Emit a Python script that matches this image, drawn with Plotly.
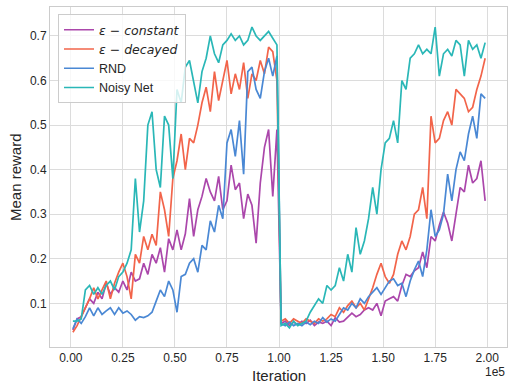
import plotly.graph_objects as go

# iterations (every 2000 steps)
iterations = list(range(1000, 200000, 2000))

eps_constant = [0.04,0.065,0.07,0.09,0.11,0.1,0.125,0.11,0.145,0.12,
                0.135,0.125,0.15,0.13,0.17,0.15,0.155,0.19,0.165,0.21,
                0.19,0.225,0.17,0.245,0.22,0.265,0.22,0.256,0.335,0.25,
                0.31,0.34,0.38,0.35,0.33,0.385,0.31,0.33,0.41,0.355,
                0.37,0.29,0.345,0.32,0.235,0.37,0.45,0.49,0.34,0.49,
                0.055,0.06,0.05,0.058,0.052,0.06,0.055,0.062,0.05,0.058,
                0.055,0.06,0.05,0.068,0.058,0.06,0.068,0.078,0.07,0.075,
                0.085,0.09,0.085,0.1,0.072,0.105,0.11,0.115,0.105,0.14,
                0.165,0.16,0.173,0.18,0.215,0.18,0.25,0.24,0.275,0.305,
                0.28,0.24,0.30,0.36,0.35,0.41,0.37,0.38,0.42,0.33]

eps_decayed = [0.035,0.05,0.07,0.09,0.11,0.135,0.11,0.13,0.15,0.11,
               0.145,0.17,0.19,0.16,0.11,0.21,0.19,0.25,0.22,0.255,
               0.23,0.35,0.31,0.25,0.38,0.42,0.48,0.40,0.47,0.46,
               0.50,0.55,0.585,0.53,0.62,0.555,0.60,0.645,0.57,0.615,
               0.58,0.64,0.56,0.615,0.60,0.645,0.615,0.675,0.665,0.60,
               0.06,0.065,0.055,0.065,0.06,0.055,0.065,0.06,0.055,0.065,
               0.06,0.065,0.075,0.07,0.09,0.08,0.095,0.105,0.09,0.10,
               0.085,0.11,0.135,0.165,0.19,0.16,0.145,0.165,0.21,0.24,
               0.22,0.25,0.30,0.31,0.36,0.29,0.52,0.46,0.47,0.51,
               0.53,0.50,0.58,0.57,0.56,0.53,0.54,0.58,0.61,0.65]

rnd = [0.043,0.065,0.055,0.07,0.09,0.072,0.09,0.075,0.083,0.09,
       0.075,0.09,0.078,0.083,0.075,0.062,0.07,0.068,0.072,0.08,
       0.105,0.13,0.115,0.15,0.13,0.08,0.16,0.165,0.19,0.2,
       0.17,0.23,0.22,0.285,0.26,0.32,0.29,0.46,0.49,0.43,
       0.51,0.39,0.62,0.63,0.58,0.56,0.62,0.65,0.61,0.655,
       0.055,0.05,0.058,0.05,0.055,0.05,0.058,0.052,0.06,0.055,
       0.068,0.058,0.065,0.06,0.075,0.09,0.085,0.1,0.09,0.11,
       0.1,0.115,0.125,0.135,0.12,0.135,0.15,0.155,0.14,0.145,
       0.115,0.15,0.175,0.195,0.16,0.22,0.31,0.25,0.265,0.30,
       0.39,0.33,0.40,0.44,0.42,0.48,0.52,0.47,0.57,0.56]

noisy_net = [0.06,0.06,0.065,0.13,0.14,0.12,0.135,0.12,0.14,0.15,
             0.13,0.16,0.17,0.19,0.22,0.38,0.26,0.33,0.5,0.53,
             0.4,0.36,0.52,0.5,0.38,0.58,0.55,0.63,0.645,0.6,
             0.55,0.62,0.65,0.7,0.66,0.64,0.68,0.69,0.705,0.69,
             0.7,0.68,0.69,0.72,0.7,0.69,0.7,0.71,0.695,0.68,
             0.05,0.055,0.045,0.06,0.05,0.055,0.06,0.08,0.095,0.11,
             0.10,0.14,0.13,0.14,0.18,0.15,0.21,0.17,0.27,0.21,
             0.24,0.29,0.36,0.30,0.40,0.46,0.47,0.51,0.46,0.60,
             0.58,0.65,0.66,0.68,0.66,0.67,0.66,0.72,0.61,0.66,
             0.67,0.655,0.69,0.68,0.61,0.69,0.67,0.68,0.65,0.685]

x_tickvals = [0, 25000, 50000, 75000, 100000, 125000, 150000, 175000, 200000]
x_ticktext = ["0.00", "0.25", "0.50", "0.75", "1.00", "1.25", "1.50", "1.75", "2.00"]
y_tickvals = [0.1, 0.2, 0.3, 0.4, 0.5, 0.6, 0.7]
y_ticktext = ["0.1", "0.2", "0.3", "0.4", "0.5", "0.6", "0.7"]

MATH = '<span style="font-family:DejaVu Sans"><i>{}</i></span>'
series = [
    (MATH.format("ε − constant"), eps_constant, "#ab47ab"),
    (MATH.format("ε − decayed"), eps_decayed, "#f2644a"),
    ("RND", rnd, "#4a88d4"),
    ("Noisy Net", noisy_net, "#2ab7b7"),
]

fig = go.Figure()
for name, vals, color in series:
    fig.add_trace(go.Scatter(x=iterations, y=vals, mode="lines", name=name,
                             line=dict(color=color, width=1.7)))

FONT = "Liberation Sans, Arial, sans-serif"
TXT = "#262626"
GRID = "#dcdcdc"

fig.update_layout(
    width=508, height=383,
    margin=dict(l=50, r=1, t=7, b=36, autoexpand=False),
    paper_bgcolor="white", plot_bgcolor="white",
    font=dict(family=FONT, size=12, color=TXT),
    showlegend=True,
    legend=dict(x=0.0175, y=0.979, xanchor="left", yanchor="top",
                bgcolor="rgba(255,255,255,0.8)", bordercolor="#cccccc", borderwidth=1,
                font=dict(family=FONT, size=12.5, color=TXT)),
    xaxis=dict(range=[-10000, 209500], tickvals=x_tickvals, ticktext=x_ticktext,
               showgrid=True, gridcolor=GRID, gridwidth=1, zeroline=False,
               showline=True, linecolor="#cccccc", linewidth=1, mirror=True,
               ticks="", automargin=False, tickfont=dict(size=12, color=TXT)),
    yaxis=dict(range=[0.002, 0.765], tickvals=y_tickvals, ticktext=y_ticktext,
               showgrid=True, gridcolor=GRID, gridwidth=1, zeroline=False,
               showline=True, linecolor="#cccccc", linewidth=1, mirror=True,
               ticks="", automargin=False, tickfont=dict(size=12, color=TXT)),
    annotations=[
        dict(text="Iteration", xref="paper", yref="paper", x=0.5, y=0,
             yshift=-28, xanchor="center", yanchor="middle", showarrow=False,
             font=dict(size=15, color=TXT)),
        dict(text="Mean reward", xref="paper", yref="paper", x=0, y=0.5,
             xshift=-35, xanchor="center", yanchor="middle", textangle=-90,
             showarrow=False, font=dict(size=15, color=TXT)),
        dict(text="1e5", xref="paper", yref="paper", x=1, y=0,
             yshift=-25, xanchor="right", yanchor="middle", showarrow=False,
             font=dict(size=12, color=TXT)),
    ],
)

fig.write_html("out.html",
               config={"displayModeBar": False},
               post_script="document.body.style.margin='0';document.body.style.overflow='hidden';")
